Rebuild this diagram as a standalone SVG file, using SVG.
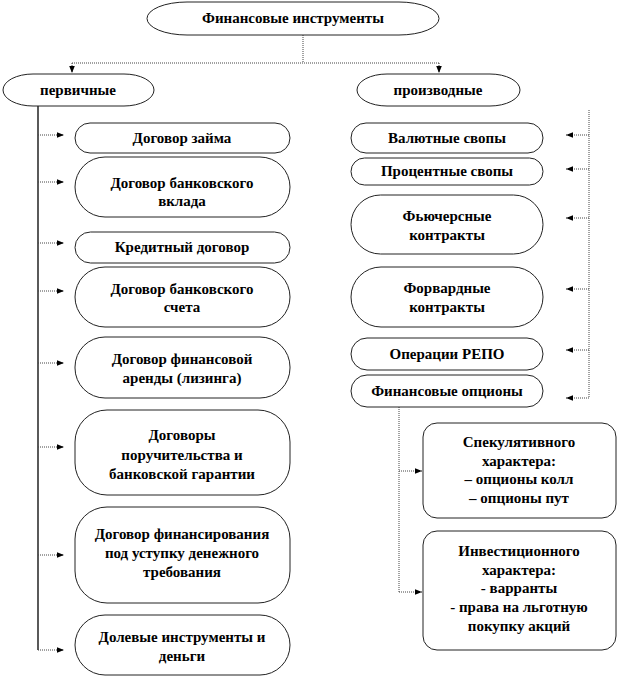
<svg xmlns="http://www.w3.org/2000/svg" width="618" height="699" viewBox="0 0 618 699">
<style>
.n{fill:#fff;stroke:#222;stroke-width:1}
.t{font-family:"Liberation Serif","Times New Roman",serif;font-size:15px;font-weight:bold;fill:#000;text-anchor:middle}
.c{fill:none;stroke:#444;stroke-width:1;stroke-dasharray:1 1}
.s{fill:none;stroke:#000;stroke-width:1.3}
</style>
<defs>
<marker id="a" viewBox="0 0 10 10" refX="10" refY="5" markerWidth="7" markerHeight="7" orient="auto" markerUnits="userSpaceOnUse">
<path d="M0,1 L10,5 L0,9 z" fill="#000"/>
</marker>
</defs>
<rect width="618" height="699" fill="#fff"/>
<g id="connectors">
<path class="c" d="M303,35 V63"/>
<path class="c" d="M72,63 H439"/>
<path class="c" d="M72,63 V73" marker-end="url(#a)"/>
<path class="c" d="M439,63 V73" marker-end="url(#a)"/>
<path class="s" d="M38,106 V650"/>
<path class="c" d="M38,135 H64" marker-end="url(#a)"/>
<path class="c" d="M38,182 H64" marker-end="url(#a)"/>
<path class="c" d="M38,243 H64" marker-end="url(#a)"/>
<path class="c" d="M38,291 H64" marker-end="url(#a)"/>
<path class="c" d="M38,363 H64" marker-end="url(#a)"/>
<path class="c" d="M38,447 H64" marker-end="url(#a)"/>
<path class="c" d="M38,555 H64" marker-end="url(#a)"/>
<path class="c" d="M38,650 H64" marker-end="url(#a)"/>
<path class="c" d="M589,110 V398"/>
<path class="c" d="M589,135 H566" marker-end="url(#a)"/>
<path class="c" d="M589,169 H566" marker-end="url(#a)"/>
<path class="c" d="M589,218 H566" marker-end="url(#a)"/>
<path class="c" d="M589,289 H566" marker-end="url(#a)"/>
<path class="c" d="M589,350 H566" marker-end="url(#a)"/>
<path class="c" d="M589,398 H566" marker-end="url(#a)"/>
<path class="c" d="M399,407 V592"/>
<path class="c" d="M399,471 H422" marker-end="url(#a)"/>
<path class="c" d="M399,592 H422" marker-end="url(#a)"/>
</g>
<g id="root"><rect class="n" x="147" y="2" width="292" height="33" rx="40" ry="16.5"/><text class="t" x="293" y="23">Финансовые инструменты</text></g>
<g id="primary"><rect class="n" x="3" y="74" width="151" height="32" rx="30" ry="16"/><text class="t" x="78" y="95">первичные</text></g>
<g id="derivative"><rect class="n" x="357" y="74" width="163" height="32" rx="30" ry="16"/><text class="t" x="438" y="95">производные</text></g>

<g id="loan"><rect class="n" x="75" y="123" width="215" height="30" rx="15"/><text class="t" x="182" y="143">Договор займа</text></g>
<g id="deposit"><rect class="n" x="75" y="157" width="215" height="60" rx="30"/><text class="t" x="182" y="188">Договор банковского</text><text class="t" x="182" y="206">вклада</text></g>
<g id="credit"><rect class="n" x="75" y="232" width="215" height="31" rx="15.5"/><text class="t" x="182" y="252">Кредитный договор</text></g>
<g id="account"><rect class="n" x="75" y="267" width="215" height="60" rx="30"/><text class="t" x="182" y="294">Договор банковского</text><text class="t" x="182" y="312">счета</text></g>
<g id="leasing"><rect class="n" x="75" y="337" width="215" height="61" rx="30"/><text class="t" x="182" y="364">Договор финансовой</text><text class="t" x="182" y="383">аренды (лизинга)</text></g>
<g id="guarantee"><rect class="n" x="75" y="410" width="215" height="85" rx="32"/><text class="t" x="182" y="440">Договоры</text><text class="t" x="182" y="460">поручительства и</text><text class="t" x="182" y="479">банковской гарантии</text></g>
<g id="factoring"><rect class="n" x="75" y="507" width="215" height="96" rx="32"/><text class="t" x="182" y="539">Договор финансирования</text><text class="t" x="182" y="558">под уступку  денежного</text><text class="t" x="182" y="577">требования</text></g>
<g id="equity"><rect class="n" x="75" y="615" width="215" height="60" rx="30"/><text class="t" x="182" y="642">Долевые инструменты и</text><text class="t" x="182" y="661">деньги</text></g>

<g id="fxswap"><rect class="n" x="351" y="123" width="192" height="30" rx="15"/><text class="t" x="447" y="143">Валютные свопы</text></g>
<g id="irswap"><rect class="n" x="351" y="158" width="192" height="27" rx="13.5"/><text class="t" x="447" y="176">Процентные свопы</text></g>
<g id="futures"><rect class="n" x="351" y="195" width="192" height="59" rx="29.5"/><text class="t" x="447" y="221">Фьючерсные</text><text class="t" x="447" y="240">контракты</text></g>
<g id="forwards"><rect class="n" x="351" y="267" width="192" height="60" rx="30"/><text class="t" x="447" y="293">Форвардные</text><text class="t" x="447" y="312">контракты</text></g>
<g id="repo"><rect class="n" x="351" y="338" width="192" height="32" rx="16"/><text class="t" x="447" y="359">Операции РЕПО</text></g>
<g id="options"><rect class="n" x="351" y="375" width="192" height="32" rx="16"/><text class="t" x="447" y="396">Финансовые опционы</text></g>

<g id="speculative"><rect class="n" x="423" y="423" width="193" height="95" rx="14"/><text class="t" x="519" y="447">Спекулятивного</text><text class="t" x="519" y="466">характера:</text><text class="t" x="519" y="484">– опционы колл</text><text class="t" x="519" y="503">– опционы пут</text></g>
<g id="investment"><rect class="n" x="423" y="531" width="193" height="119" rx="14"/><text class="t" x="519" y="556">Инвестиционного</text><text class="t" x="519" y="575">характера:</text><text class="t" x="519" y="593">- варранты</text><text class="t" x="519" y="612">- права на льготную</text><text class="t" x="519" y="631">покупку  акций</text></g>
</svg>
